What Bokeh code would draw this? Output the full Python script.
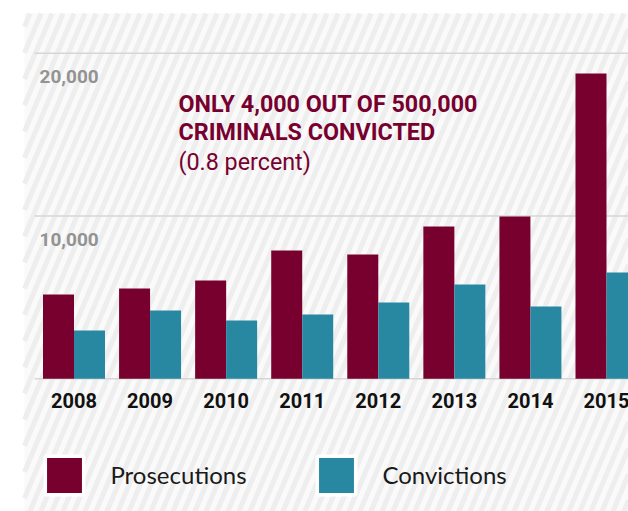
import numpy as np
from bokeh.plotting import figure
from bokeh.models import Range1d, Legend, LegendItem, Label
from bokeh.embed import file_html
from bokeh.resources import INLINE
from bokeh.core.properties import value

# ---- data ----
years = ["2008", "2009", "2010", "2011", "2012", "2013", "2014", "2015"]
prosecutions = [5180, 5550, 6040, 7880, 7640, 9360, 9970, 18750]
convictions = [2970, 4200, 3580, 3950, 4690, 5790, 4440, 6530]
grid_values = [0, 10000, 20000]
tick_values = [10000, 20000]
tick_labels = ["10,000", "20,000"]
series_names = ["Prosecutions", "Convictions"]
note_lines = ["ONLY 4,000 OUT OF 500,000", "CRIMINALS CONVICTED", "(0.8 percent)"]

MAROON = "#78002e"
TEAL = "#2888a2"

W, H = 628, 511
PX_PER_CAT = 76.07
CAT0_PX = 73.5
BASE_PX = 378.3
PX_PER_UNIT = 0.01628

xr = Range1d(-CAT0_PX / PX_PER_CAT, (W - CAT0_PX) / PX_PER_CAT)
yr = Range1d(-(H - BASE_PX) / PX_PER_UNIT, BASE_PX / PX_PER_UNIT)


def dx(fx):
    return xr.start + fx / W * (xr.end - xr.start)


def dy(fy):
    return yr.end - fy / H * (yr.end - yr.start)


p = figure(width=W, height=H, x_range=xr, y_range=yr, output_backend="svg",
           toolbar_location=None, min_border=0, x_axis_location=None,
           y_axis_location=None, outline_line_color=None,
           background_fill_color="white", border_fill_color="white")
p.grid.visible = False

# striped background panel
p.quad(left=[dx(24)], right=[dx(W)], top=[dy(13)], bottom=[dy(H)],
       fill_color="#fafafa", line_color=None)
k = 0.42
period = 11.0
X0, X1, Y0, Y1 = 24.0, float(W), 13.0, float(H)
sx0, sy0, sx1, sy1 = [], [], [], []
c = X0
while c < X1 + k * Y1 + period:
    lo = max(Y0, (c - X1) / k)
    hi = min(Y1, (c - X0) / k)
    if lo < hi:
        sx0.append(dx(c - k * lo)); sy0.append(dy(lo))
        sx1.append(dx(c - k * hi)); sy1.append(dy(hi))
    c += period
p.segment(x0=sx0, y0=sy0, x1=sx1, y1=sy1, line_color="#eeeeee", line_width=5)

# gridlines
p.segment(x0=[dx(34)] * len(grid_values), y0=grid_values,
          x1=[xr.end] * len(grid_values), y1=grid_values,
          line_color="#d6d6d6", line_width=1.5)

# bars
idx = np.arange(len(years))
bw = 31 / PX_PER_CAT
p.vbar(x=idx - bw / 2, top=prosecutions, width=bw, fill_color=MAROON, line_color=None)
p.vbar(x=idx + bw / 2, top=convictions, width=bw, fill_color=TEAL, line_color=None)

# y tick labels
p.text(x=[dx(39)] * len(tick_values), y=tick_values, text=tick_labels,
       y_offset=23, text_align="left", text_baseline="middle",
       text_font=value("Roboto"), text_font_style="bold",
       text_font_size="19px", text_color="#939393")

# year labels
p.text(x=idx, y=[0] * len(years), text=years, y_offset=22,
       text_align="center", text_baseline="middle",
       text_font=value("Roboto"), text_font_style="bold",
       text_font_size="20px", text_color="#111111")

# annotation
ys = [407.5, 380, 350]
for i, line in enumerate(note_lines):
    p.add_layout(Label(x=178, y=ys[i], x_units="screen", y_units="screen",
                       text=line, text_font="Roboto",
                       text_font_style="bold" if i < 2 else "normal",
                       text_font_size="23.3px", text_color=MAROON,
                       text_baseline="middle", text_align="left"))

# legend
r1 = p.vbar(x=[-50], top=[0], width=0.4, fill_color=MAROON, line_color="white", line_width=3.5)
r2 = p.vbar(x=[-50], top=[0], width=0.4, fill_color=TEAL, line_color="white", line_width=3.5)
legend = Legend(items=[LegendItem(label=series_names[0], renderers=[r1]),
                       LegendItem(label=series_names[1], renderers=[r2])],
                orientation="horizontal", location=(40.45, 12.5),
                glyph_width=48, glyph_height=48, label_standoff=22,
                label_width=140, spacing=62, padding=0, margin=0,
                border_line_alpha=0, background_fill_alpha=0,
                label_text_font="Lato", label_text_font_size="24px",
                label_text_color="#1a1a1a")
p.add_layout(legend)

open("out.html", "w").write(file_html(p, INLINE))
